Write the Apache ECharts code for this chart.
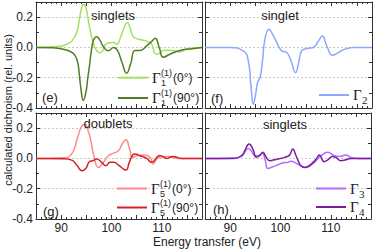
<!DOCTYPE html>
<html><head><meta charset="utf-8">
<script src="https://cdn.jsdelivr.net/npm/echarts@6/dist/echarts.min.js"></script>
<style>html,body{margin:0;padding:0;background:#fff}#c{width:374px;height:249px}</style>
</head><body><div id="c"></div>
<script>
// ---- data (energy in eV, dichroism in rel. units) ----
const xTicks = [90, 100, 110];
const yTicks = [-0.4, -0.2, 0.0, 0.2];

const eG1_0 = [85, 88, 90, 91.1, 92.2, 93.1, 93.7, 94.1, 94.5, 94.9, 95.2, 95.6, 96.1, 96.6, 97.06, 97.7, 98.3, 99.05, 100.4, 101.0, 101.8, 102.5, 103.16, 103.7, 104.35, 105.3, 106.34, 107.4, 108.0, 108.66, 109.2, 109.65, 110.3, 110.98, 112.2, 113.6, 114.6, 115.6, 118];
const vG1_0 = [0, 0.004, 0.01, 0.02, 0.045, 0.1, 0.2, 0.265, 0.285, 0.265, 0.22, 0.14, 0.065, 0.01, -0.02, -0.035, -0.02, 0.026, 0.033, 0.02, 0.065, 0.13, 0.164, 0.13, 0.07, 0.055, 0.048, 0.035, 0.022, -0.04, -0.045, -0.035, -0.02, -0.018, -0.02, -0.03, -0.015, -0.005, 0];

const eG1_90 = [85, 88, 89.4, 91.1, 92.2, 92.8, 93.3, 93.6, 94.0, 94.4, 94.9, 95.3, 95.6, 96.2, 96.6, 97.06, 97.7, 98.5, 99.4, 100.4, 101.2, 102.1, 103.0, 103.8, 104.7, 105.7, 107.0, 108.0, 108.7, 109.5, 110.3, 111.6, 113.6, 115.6, 118];
const vG1_90 = [0, -0.002, -0.005, -0.018, -0.035, -0.055, -0.1, -0.175, -0.29, -0.35, -0.3, -0.2, -0.13, 0.02, 0.06, 0.07, 0.048, 0, -0.022, 0, -0.02, -0.1, -0.17, -0.11, -0.02, -0.02, 0.01, 0.04, 0.06, 0, -0.065, -0.045, -0.02, -0.01, 0];

const eG2 = [85, 89.6, 92.57, 93.56, 94.09, 94.55, 95.0, 95.4, 95.87, 96.33, 96.86, 97.65, 98.3, 99.17, 100.15, 101.15, 102.0, 102.9, 103.45, 104.1, 105.1, 106.4, 107.27, 108.2, 109.05, 110.2, 111.35, 112.7, 114.6, 118];
const vG2 = [0, 0, -0.023, -0.09, -0.26, -0.375, -0.31, -0.23, -0.2, -0.1, 0.057, 0.12, 0.09, 0.034, -0.023, -0.034, -0.09, -0.166, -0.11, -0.023, -0.007, 0, 0.034, 0.075, 0.011, -0.052, -0.034, -0.011, 0, 0];

const eG5_0 = [85, 90.4, 92.1, 93.2, 94.1, 94.75, 95.3, 95.9, 96.5, 97.4, 98.4, 99.4, 100.4, 101.4, 102.3, 102.9, 103.6, 104.2, 105.1, 106.5, 107.7, 108.3, 109.1, 110.3, 111.6, 113, 118];
const vG5_0 = [0, 0.004, 0.03, 0.13, 0.215, 0.224, 0.19, 0.116, 0.018, -0.06, -0.026, 0.018, 0.035, 0.05, 0.105, 0.123, 0.062, 0.007, 0.018, 0.022, 0.007, -0.037, 0, 0.013, 0.013, 0, 0];

const eG5_90 = [85, 90.4, 92.1, 93.2, 94.1, 94.9, 95.6, 96.3, 97.06, 98.06, 98.9, 99.7, 100.5, 101.4, 102.4, 102.9, 103.55, 104.2, 104.7, 105.7, 107.0, 108.0, 109.65, 111.0, 112.2, 114.0, 118];
const vG5_90 = [0, -0.002, -0.011, -0.048, -0.081, -0.066, -0.022, -0.015, -0.004, -0.026, -0.048, -0.026, -0.026, -0.044, -0.07, -0.077, -0.026, 0.022, 0.029, 0.018, 0, -0.026, 0.02, 0, 0.013, 0, 0];

const eG3 = [85, 90.9, 92.25, 92.9, 93.56, 94.2, 95.0, 95.87, 96.4, 97.0, 97.5, 98.5, 99.5, 100.5, 101.5, 102.1, 103.1, 103.97, 105.1, 106.1, 107.1, 108.06, 109.4, 110.7, 111.7, 113.0, 114.0, 115.3, 118];
const vG3 = [0, 0, 0.013, 0.04, 0.066, 0.05, 0.018, 0.022, 0.035, -0.015, -0.066, -0.055, -0.042, -0.029, -0.026, -0.018, -0.031, -0.048, -0.06, -0.044, -0.015, 0.018, 0.04, 0.018, 0.013, 0.022, 0.007, 0, 0];

const eG4 = [85, 90.9, 92.25, 92.9, 93.76, 94.55, 95.2, 95.87, 96.5, 97.2, 97.85, 98.5, 99.5, 100.8, 101.8, 102.45, 103.1, 103.97, 104.76, 106.1, 107.1, 107.7, 108.7, 109.4, 110.35, 111.0, 112.0, 113.0, 114.0, 118];
const vG4 = [0, 0.002, 0.018, 0.05, 0.095, 0.06, 0.007, 0.018, 0.04, 0.007, -0.015, -0.011, -0.004, 0.007, 0.022, 0.062, 0.018, -0.044, -0.06, -0.037, -0.004, 0.022, -0.022, -0.009, 0.013, 0.007, -0.015, -0.009, 0, 0];

const panelTitles = ['singlets', 'singlet', 'doublets', 'singlets'];
const panelLetters = ['(e)', '(f)', '(g)', '(h)'];

// ---- chart ----
const zip = (a, b) => a.map((x, i) => [x, b[i]]);
const FONT = '"Liberation Sans", Arial, sans-serif';
const SERIF = '"Liberation Serif", "DejaVu Serif", serif';
const TXT = '#222';
const AX = '#333';

const grids = [
  {left: 36, top: 2, width: 166, height: 106},
  {left: 205, top: 2, width: 167, height: 106},
  {left: 36, top: 113, width: 166, height: 106},
  {left: 205, top: 113, width: 167, height: 106}
];

const xAxes = [], yAxes = [];
grids.forEach((g, i) => {
  ['bottom', 'top'].forEach(pos => {
    xAxes.push({
      type: 'value', gridIndex: i, position: pos, min: 85, max: 118, interval: 5,
      axisLine: {show: true, onZero: false, lineStyle: {color: AX, width: 1}},
      axisTick: {show: true, inside: true, length: 4, lineStyle: {color: AX}},
      minorTick: {show: true, splitNumber: 5, length: 2, lineStyle: {color: AX}},
      splitLine: {show: false},
      axisLabel: {
        show: pos === 'bottom' && i >= 2, margin: 3, fontSize: 12, lineHeight: 12, color: TXT, fontFamily: FONT,
        formatter: v => xTicks.indexOf(Math.round(v * 1000) / 1000) >= 0 ? String(v) : ''
      }
    });
  });
  ['left', 'right'].forEach(pos => {
    yAxes.push({
      type: 'value', gridIndex: i, position: pos, min: -0.4, max: 0.3, interval: 0.2,
      axisLine: {show: true, onZero: false, lineStyle: {color: AX, width: 1}},
      axisTick: {show: true, inside: true, length: 4, lineStyle: {color: AX}},
      minorTick: {show: true, splitNumber: 2, length: 3, lineStyle: {color: AX}},
      splitLine: {show: pos === 'left', lineStyle: {color: '#c8c8c8', type: [2, 2], width: 1}},
      axisLabel: {
        show: pos === 'left' && i % 2 === 0, margin: 3, fontSize: 12, color: TXT, fontFamily: FONT,
        formatter: v => {
          const r = Math.round(v * 10) / 10;
          const hit = yTicks.some(t => Math.abs(t - r) < 1e-6) && Math.abs(v - r) < 1e-6;
          if (!hit) return '';
          return Math.abs(r) < 1e-9 ? '0.0' : r.toFixed(1);
        }
      }
    });
  });
});

function mk(name, gi, e, v, color) {
  return {
    name, type: 'line', xAxisIndex: gi * 2, yAxisIndex: gi * 2, data: zip(e, v),
    symbol: 'none', smooth: 0.5,
    lineStyle: {color, width: 1.5}, itemStyle: {color}, z: 3
  };
}
const colors = {
  G1_0: '#a2e35c', G1_90: '#4f7e25', G2: '#8ea8ff',
  G5_0: '#ff8a8a', G5_90: '#d4202a', G3: '#b469ff', G4: '#7a1f98'
};
const series = [
  mk('G1_0', 0, eG1_0, vG1_0, colors.G1_0),
  mk('G1_90', 0, eG1_90, vG1_90, colors.G1_90),
  mk('G2', 1, eG2, vG2, colors.G2),
  mk('G5_0', 2, eG5_0, vG5_0, colors.G5_0),
  mk('G5_90', 2, eG5_90, vG5_90, colors.G5_90),
  mk('G3', 3, eG3, vG3, colors.G3),
  mk('G4', 3, eG4, vG4, colors.G4)
];

// legend entries: [series, sub, sup, suffix, lineX, lineY]
const legendItems = [
  ['G1_0', '1', '(1)', '(0°)', 118, 77.7],
  ['G1_90', '1', '(1)', '(90°)', 118, 98],
  ['G2', '2', '', '', 319, 95],
  ['G5_0', '5', '(1)', '(0°)', 117, 188.5],
  ['G5_90', '5', '(1)', '(90°)', 117, 207.5],
  ['G3', '3', '', '', 316, 188.5],
  ['G4', '4', '', '', 316, 207]
];

const graphic = [];
legendItems.forEach(([n, sb, sp, suf, lx, ly]) => {
  graphic.push({
    type: 'rect', z: 10, shape: {x: lx, y: ly - 1, width: 30, height: 2},
    style: {fill: colors[n], stroke: null}
  });
  graphic.push({
    type: 'text', x: lx + 34, y: ly, z: 10,
    style: {text: 'Γ', fill: TXT, fontSize: 15, fontFamily: SERIF, align: 'left', verticalAlign: 'middle'}
  });
  graphic.push({
    type: 'text', x: lx + 43, y: ly + 5, z: 10,
    style: {text: sb, fill: TXT, fontSize: sp ? 9 : 11, fontFamily: sp ? FONT : SERIF, align: 'left', verticalAlign: 'middle'}
  });
  if (sp) {
    graphic.push({
      type: 'text', x: lx + 43, y: ly - 5, z: 10,
      style: {text: sp, fill: TXT, fontSize: 9, fontFamily: FONT, align: 'left', verticalAlign: 'middle'}
    });
    graphic.push({
      type: 'text', x: lx + 55, y: ly, z: 10,
      style: {text: suf, fill: TXT, fontSize: 12, fontFamily: FONT, align: 'left', verticalAlign: 'middle'}
    });
  }
});

const titlePos = [[113, 15], [280, 15], [108, 123], [285, 124]];
const letterPos = [[42, 97], [211, 98], [43, 211], [213, 209]];
panelTitles.forEach((t, i) => graphic.push({
  type: 'text', x: titlePos[i][0], y: titlePos[i][1], z: 10,
  style: {text: t, fill: TXT, fontSize: 13, fontFamily: FONT, align: 'center', verticalAlign: 'middle'}
}));
panelLetters.forEach((t, i) => graphic.push({
  type: 'text', x: letterPos[i][0], y: letterPos[i][1], z: 10,
  style: {text: t, fill: TXT, fontSize: 13, fontFamily: FONT, align: 'left', verticalAlign: 'middle'}
}));
graphic.push({
  type: 'text', x: 8, y: 110, rotation: Math.PI / 2, z: 10,
  style: {text: 'calculated dichroism (rel. units)', fill: TXT, fontSize: 11, fontFamily: FONT, align: 'center', verticalAlign: 'middle'}
});
graphic.push({
  type: 'text', x: 207, y: 242, z: 10,
  style: {text: 'Energy transfer (eV)', fill: TXT, fontSize: 12, lineHeight: 12, fontFamily: FONT, align: 'center', verticalAlign: 'middle'}
});

const chart = echarts.init(document.getElementById('c'), null, {renderer: 'svg'});
chart.setOption({
  animation: false,
  backgroundColor: '#fff',
  grid: grids,
  xAxis: xAxes,
  yAxis: yAxes,
  series,
  graphic
});
</script>
</body></html>
